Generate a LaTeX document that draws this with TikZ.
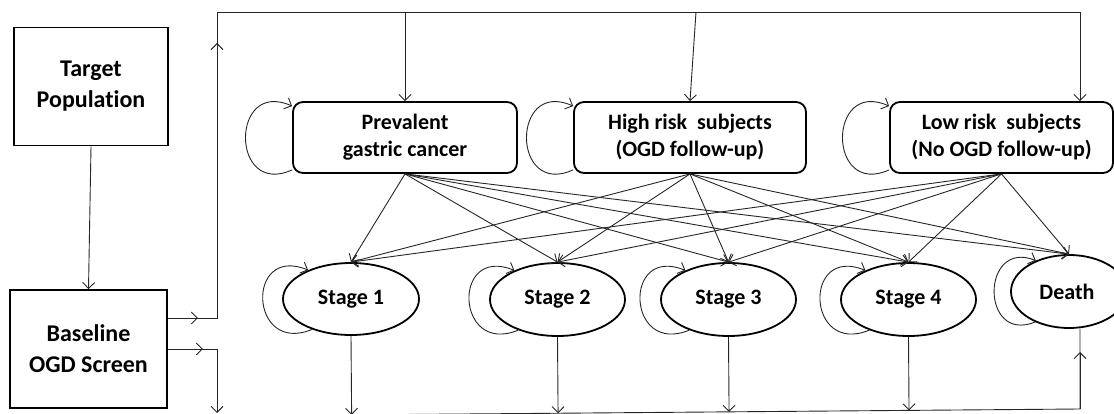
\documentclass[tikz,border=0pt]{standalone}
\usepackage{fontspec}
\setmainfont{Carlito}[Ligatures=NoCommon]
\usetikzlibrary{shapes.geometric, arrows.meta, positioning, calc}

\tikzset{
  conn/.style={draw=black!85, line width=0.9pt, -{Straight Barb[length=6pt,width=12pt]}},
  plain/.style={draw=black!85, line width=0.9pt},
  sqbox/.style={draw, line width=1.8pt, minimum height=118pt, inner sep=0pt,
    font=\fontsize{24}{31}\selectfont\bfseries, align=center},
  statebox/.style={draw, line width=1.8pt, rounded corners=10pt, minimum height=71pt, inner sep=0pt,
    font=\fontsize{22}{27}\selectfont\bfseries, align=center},
  stagenode/.style={draw, ellipse, line width=1.8pt, minimum width=135pt, minimum height=73pt, inner sep=0pt,
    font=\fontsize{22}{27}\selectfont\bfseries}
}

\begin{document}
\begin{tikzpicture}[x=1pt, y=-1pt]
  \useasboundingbox (0,0) rectangle (1114,414);

  % screening boxes
  \node[sqbox, minimum width=154pt] (tp) at (91,86.5) {Target\\Population};
  \node[sqbox, minimum width=157pt] (base) at (88.5,349) {Baseline\\OGD Screen};
  \draw[conn] (tp.south) -- (base.north);

  % health states after screening
  \node[statebox, minimum width=224pt] (pgc) at (405,137.5) {Prevalent\\gastric cancer};
  \node[statebox, minimum width=232pt] (hr) at (690,137.5) {High risk~ subjects\\(OGD follow-up)};
  \node[statebox, minimum width=223pt] (lr) at (1001.5,137.5) {Low risk~ subjects\\(No OGD follow-up)};

  % cancer stages and death
  \node[stagenode, minimum width=136pt, minimum height=72pt] (s1) at (351,299) {Stage 1};
  \node[stagenode] (s2) at (557.5,299.5) {Stage 2};
  \node[stagenode] (s3) at (728.5,299.5) {Stage 3};
  \node[stagenode] (s4) at (908.5,299.5) {Stage 4};
  \node[stagenode, minimum width=116pt] (dth) at (1069,291.5) {\hspace*{-4pt}Death};

  % top route
  \coordinate (bo1) at ($(base.east)+(0,-31)$);
  \coordinate (ja) at (217,318);
  \coordinate (jt) at (217,12);
  \coordinate (jr) at (1080,12);
  \coordinate (jh) at (696,12);
  \draw[plain] (bo1) -- (ja) -- (jt) -- (jr);
  \draw[conn] (bo1) -- ++(30,0);
  \draw[conn] (ja) -- (217,43);
  \draw[conn] (pgc.north |- jt) -- (pgc.north);
  \draw[conn] (jh) -- (hr.north);
  \draw[conn] (jr) -- (lr.north -| jr);

  % bottom route
  \coordinate (bo2) at (base.east);
  \coordinate (jb) at (bo2 -| ja);
  \coordinate (bl) at (217,416);
  \coordinate (br) at (1080,409);
  \draw[plain] (bo2) -- (jb);
  \draw[conn] (bo2) -- ++(35,0);
  \draw[conn] (jb) -- (217,413);
  \draw[plain] (bl) -- (br) -- (dth.south -| br);
  \draw[conn] (br) -- (1080,352);
  \foreach \s in {s1,s2,s3,s4}
    \draw[conn] (\s.south) -- ($(bl)!(\s.south)!(br)$);

  % transitions
  \foreach \a in {pgc,hr,lr}
    \foreach \b in {s1,s2,s3,s4,dth}
      \draw[conn] (\a.south) -- (\b.north);

  % self loops
  \foreach \a in {pgc,hr,lr}
    \draw[conn] ([yshift=4pt]\a.south west) .. controls +(-62,28) and +(-62,-28) .. ([yshift=-5pt]\a.north west);
  \foreach \s in {s1,s2,s3,s4}
    \draw[conn] (\s.218) .. controls +(-63,26) and +(-63,-26) .. (\s.146);
  \draw[conn] (dth.222) .. controls +(-55,22) and +(-55,-22) .. (dth.137);
\end{tikzpicture}
\end{document}
